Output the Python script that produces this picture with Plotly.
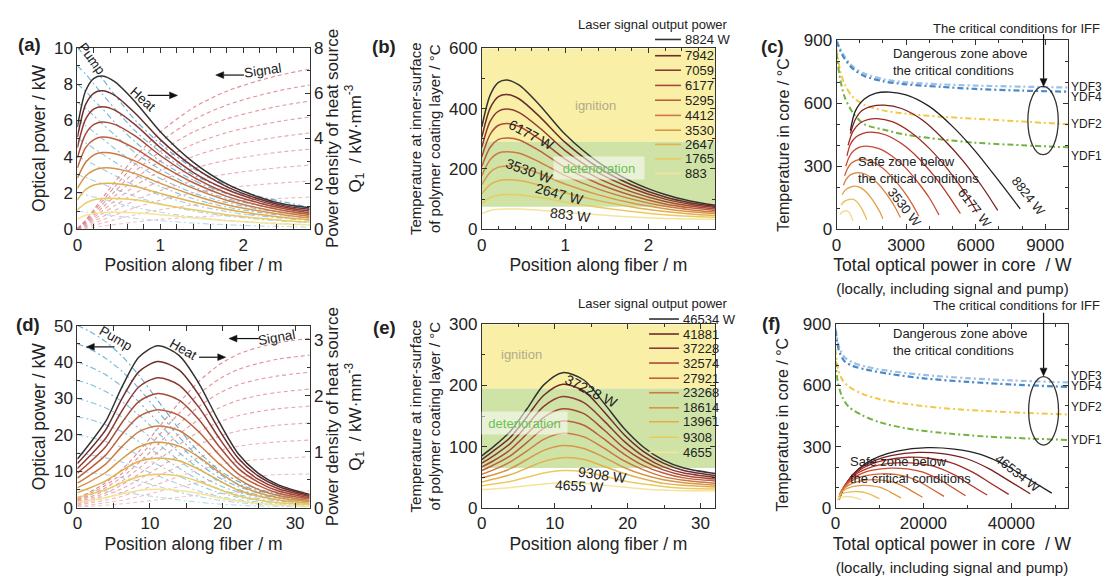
import plotly.graph_objects as go

# ======================= DATA =======================
LEG_A = ["8824 W", "7942", "7059", "6177", "5295", "4412", "3530", "2647", "1765", "883"]
LEG_D = ["46534 W", "41881", "37228", "32574", "27921", "23268", "18614", "13961", "9308", "4655"]

# ---- panel (a): position (m) / heat (kW/mm3) / pump, signal (kW)
A_X = [0, 0.1, 0.2, 0.3, 0.45, 0.7, 1.0, 1.4, 1.8, 2.2, 2.5, 2.8]
A_HEAT = [
    [4.5, 6.1, 6.65, 6.75, 6.5, 5.6, 4.3, 2.95, 2.0, 1.4, 1.1, 0.95],
    [4.05, 5.5, 6.0, 6.1, 5.9, 5.1, 3.95, 2.75, 1.88, 1.32, 1.03, 0.88],
    [3.6, 4.85, 5.3, 5.4, 5.25, 4.6, 3.6, 2.5, 1.75, 1.24, 0.97, 0.8],
    [3.15, 4.2, 4.62, 4.73, 4.62, 4.1, 3.25, 2.3, 1.6, 1.15, 0.9, 0.72],
    [2.7, 3.6, 3.95, 4.06, 3.98, 3.55, 2.85, 2.05, 1.45, 1.05, 0.82, 0.65],
    [2.25, 2.95, 3.28, 3.38, 3.33, 3.0, 2.45, 1.8, 1.28, 0.93, 0.73, 0.57],
    [1.8, 2.35, 2.6, 2.7, 2.68, 2.45, 2.02, 1.5, 1.08, 0.8, 0.63, 0.5],
    [1.3, 1.75, 1.95, 2.02, 2.02, 1.88, 1.58, 1.2, 0.88, 0.65, 0.52, 0.42],
    [0.85, 1.15, 1.3, 1.35, 1.36, 1.3, 1.1, 0.86, 0.64, 0.48, 0.38, 0.32],
    [0.45, 0.62, 0.7, 0.74, 0.75, 0.73, 0.64, 0.5, 0.38, 0.29, 0.23, 0.2],
]
A_PUMP = [
    [10, 9.5, 8.9, 8.3, 7.4, 6.0, 4.7, 3.35, 2.45, 1.8, 1.5, 1.2],
    [9, 8.55, 8.0, 7.45, 6.65, 5.4, 4.25, 3.0, 2.2, 1.65, 1.35, 1.1],
    [8, 7.6, 7.1, 6.65, 5.9, 4.8, 3.75, 2.7, 1.95, 1.45, 1.2, 1.0],
    [7, 6.65, 6.25, 5.8, 5.2, 4.2, 3.3, 2.35, 1.7, 1.3, 1.05, 0.85],
    [6, 5.7, 5.35, 5.0, 4.45, 3.6, 2.8, 2.0, 1.47, 1.1, 0.9, 0.72],
    [5, 4.75, 4.45, 4.15, 3.7, 3.0, 2.35, 1.68, 1.22, 0.92, 0.75, 0.6],
    [4, 3.8, 3.57, 3.32, 2.96, 2.4, 1.88, 1.34, 0.98, 0.73, 0.6, 0.48],
    [3, 2.85, 2.67, 2.5, 2.22, 1.8, 1.4, 1.0, 0.73, 0.55, 0.45, 0.36],
    [2, 1.9, 1.78, 1.66, 1.48, 1.2, 0.94, 0.67, 0.49, 0.37, 0.3, 0.24],
    [1, 0.95, 0.89, 0.83, 0.74, 0.6, 0.47, 0.34, 0.25, 0.18, 0.15, 0.12],
]
A_SIGNAL = [
    [0.05, 0.5, 1.1, 1.7, 2.6, 4.0, 5.35, 6.7, 7.6, 8.2, 8.55, 8.82],
    [0.05, 0.45, 1.0, 1.53, 2.34, 3.6, 4.82, 6.03, 6.84, 7.38, 7.7, 7.94],
    [0.04, 0.4, 0.88, 1.36, 2.08, 3.2, 4.28, 5.36, 6.08, 6.56, 6.84, 7.06],
    [0.04, 0.35, 0.77, 1.19, 1.82, 2.8, 3.75, 4.69, 5.32, 5.74, 5.99, 6.18],
    [0.03, 0.3, 0.66, 1.02, 1.56, 2.4, 3.21, 4.02, 4.56, 4.92, 5.13, 5.30],
    [0.03, 0.25, 0.55, 0.85, 1.3, 2.0, 2.68, 3.35, 3.8, 4.1, 4.28, 4.41],
    [0.02, 0.2, 0.44, 0.68, 1.04, 1.6, 2.14, 2.68, 3.04, 3.28, 3.42, 3.53],
    [0.02, 0.15, 0.33, 0.51, 0.78, 1.2, 1.6, 2.01, 2.28, 2.46, 2.57, 2.65],
    [0.01, 0.1, 0.22, 0.34, 0.52, 0.8, 1.07, 1.34, 1.52, 1.64, 1.71, 1.77],
    [0.01, 0.05, 0.11, 0.17, 0.26, 0.4, 0.54, 0.67, 0.76, 0.82, 0.86, 0.88],
]

# ---- panel (b): coating temperature (°C)
B_X = [0, 0.1, 0.2, 0.3, 0.45, 0.7, 1.0, 1.4, 1.8, 2.2, 2.5, 2.8]
B_TEMP = [
    [340, 445, 487, 495, 478, 410, 315, 222, 158, 115, 94, 80],
    [305, 402, 440, 447, 432, 372, 288, 204, 147, 107, 88, 76],
    [272, 358, 392, 399, 387, 335, 261, 187, 136, 100, 83, 72],
    [240, 315, 345, 351, 341, 297, 233, 169, 124, 92, 77, 67],
    [208, 272, 298, 303, 296, 259, 205, 151, 112, 84, 71, 62],
    [178, 231, 253, 257, 252, 222, 178, 133, 100, 76, 65, 57],
    [148, 189, 206, 210, 207, 184, 150, 114, 87, 68, 58, 52],
    [118, 148, 161, 164, 162, 146, 121, 95, 74, 59, 51, 46],
    [85, 105, 113, 115, 114, 105, 90, 73, 59, 48, 43, 40],
    [52, 62, 66, 67, 67, 63, 56, 48, 41, 36, 34, 33],
]

# ---- panel (c): core temperature vs total optical power
C_X = [
    [600, 800, 1200, 1700, 2300, 3000, 4000, 5000, 6000, 7000, 7920],
    [600, 800, 1100, 1500, 2050, 2800, 3700, 4600, 5500, 6300, 6950],
    [500, 700, 1000, 1350, 1750, 2400, 3200, 4000, 4800, 5500, 6060],
    [450, 600, 850, 1150, 1500, 2100, 2800, 3500, 4200, 4800, 5340],
    [400, 550, 750, 1000, 1300, 1800, 2400, 3000, 3500, 4000, 4420],
    [350, 480, 650, 850, 1100, 1500, 2000, 2500, 2900, 3250, 3550],
    [300, 400, 550, 750, 950, 1250, 1650, 2000, 2300, 2550, 2750],
    [250, 330, 450, 600, 800, 1050, 1300, 1500, 1700, 1870, 2000],
    [200, 270, 360, 480, 650, 800, 950, 1050, 1150, 1230, 1300],
    [150, 200, 270, 350, 430, 500, 560, 610, 650, 680, 700],
]
C_T = [
    [470, 560, 620, 648, 653, 640, 585, 490, 370, 230, 97],
    [455, 520, 565, 585, 591, 575, 520, 430, 320, 200, 90],
    [400, 465, 505, 522, 527, 512, 462, 385, 285, 180, 82],
    [350, 405, 440, 457, 462, 450, 408, 342, 255, 165, 75],
    [300, 345, 375, 391, 396, 385, 348, 290, 225, 150, 68],
    [255, 290, 315, 328, 333, 323, 290, 235, 180, 122, 62],
    [210, 235, 255, 266, 270, 262, 232, 190, 145, 100, 56],
    [165, 180, 193, 201, 205, 197, 175, 148, 115, 82, 50],
    [115, 126, 134, 140, 143, 138, 122, 105, 85, 65, 45],
    [70, 77, 83, 87, 88, 85, 78, 68, 58, 48, 40],
]
C_YDF_X34 = [0, 300, 700, 1200, 2000, 3000, 4500, 6000, 8000, 10000]
C_YDF3 = [900, 830, 775, 742, 715, 700, 690, 684, 679, 675]
C_YDF4 = [895, 820, 765, 730, 705, 690, 678, 668, 660, 655]
C_YDF_X12 = [0, 150, 350, 700, 1200, 2000, 3000, 4500, 6000, 8000, 10000]
C_YDF2 = [860, 760, 690, 630, 592, 566, 550, 536, 526, 513, 500]
C_YDF1 = [840, 720, 630, 555, 500, 475, 450, 428, 412, 400, 390]

# ---- panel (d)
D_X = [0, 1.6, 3.9, 6.2, 8.5, 11.1, 14, 16.7, 19.5, 22.2, 24.9, 27.7, 32]
D_HEAT = [
    [0.87, 1.13, 1.54, 2.17, 2.69, 2.89, 2.72, 2.23, 1.54, 0.96, 0.62, 0.41, 0.24],
    [0.79, 1.02, 1.39, 1.96, 2.43, 2.61, 2.46, 2.02, 1.40, 0.88, 0.57, 0.38, 0.22],
    [0.70, 0.91, 1.24, 1.74, 2.16, 2.32, 2.19, 1.80, 1.25, 0.79, 0.51, 0.34, 0.20],
    [0.62, 0.80, 1.09, 1.53, 1.90, 2.04, 1.92, 1.58, 1.10, 0.70, 0.46, 0.30, 0.18],
    [0.53, 0.69, 0.94, 1.32, 1.63, 1.75, 1.65, 1.36, 0.95, 0.60, 0.40, 0.26, 0.16],
    [0.44, 0.57, 0.78, 1.10, 1.36, 1.46, 1.38, 1.13, 0.79, 0.51, 0.33, 0.22, 0.13],
    [0.36, 0.46, 0.63, 0.88, 1.09, 1.17, 1.10, 0.91, 0.64, 0.41, 0.27, 0.18, 0.11],
    [0.27, 0.35, 0.48, 0.67, 0.83, 0.89, 0.84, 0.69, 0.49, 0.31, 0.21, 0.14, 0.08],
    [0.18, 0.24, 0.32, 0.45, 0.56, 0.60, 0.57, 0.47, 0.33, 0.21, 0.14, 0.09, 0.06],
    [0.10, 0.13, 0.18, 0.25, 0.31, 0.33, 0.31, 0.26, 0.18, 0.12, 0.08, 0.05, 0.03],
]
D_PUMP = [
    [50, 48.5, 45.6, 41.5, 36.3, 29.4, 21.7, 15.4, 10.4, 7.2, 5.2, 3.8, 2.5],
    [45, 43.7, 41.0, 37.4, 32.7, 26.5, 19.5, 13.9, 9.4, 6.5, 4.7, 3.4, 2.25],
    [40, 38.8, 36.5, 33.2, 29.0, 23.5, 17.4, 12.3, 8.3, 5.8, 4.2, 3.0, 2.0],
    [35, 34.0, 31.9, 29.1, 25.4, 20.6, 15.2, 10.8, 7.3, 5.0, 3.6, 2.7, 1.75],
    [30, 29.1, 27.4, 24.9, 21.8, 17.6, 13.0, 9.2, 6.2, 4.3, 3.1, 2.3, 1.5],
    [25, 24.3, 22.8, 20.8, 18.2, 14.7, 10.9, 7.7, 5.2, 3.6, 2.6, 1.9, 1.25],
    [20, 19.4, 18.2, 16.6, 14.5, 11.8, 8.7, 6.2, 4.2, 2.9, 2.1, 1.5, 1.0],
    [15, 14.6, 13.7, 12.5, 10.9, 8.8, 6.5, 4.6, 3.1, 2.2, 1.6, 1.1, 0.75],
    [10, 9.7, 9.1, 8.3, 7.3, 5.9, 4.3, 3.1, 2.1, 1.4, 1.0, 0.76, 0.5],
    [5, 4.85, 4.56, 4.15, 3.63, 2.94, 2.17, 1.54, 1.04, 0.72, 0.52, 0.38, 0.25],
]
D_SIGNAL = [
    [2.8, 4.2, 6.9, 10.6, 15.5, 21.8, 28.8, 34.6, 39.2, 42.2, 44.0, 45.3, 46.5],
    [2.5, 3.8, 6.2, 9.5, 14.0, 19.6, 25.9, 31.1, 35.3, 38.0, 39.6, 40.8, 41.9],
    [2.2, 3.4, 5.5, 8.5, 12.4, 17.4, 23.0, 27.7, 31.4, 33.8, 35.2, 36.2, 37.2],
    [2.0, 2.9, 4.8, 7.4, 10.9, 15.3, 20.2, 24.2, 27.4, 29.5, 30.8, 31.7, 32.6],
    [1.7, 2.5, 4.1, 6.4, 9.3, 13.1, 17.3, 20.8, 23.5, 25.3, 26.4, 27.2, 27.9],
    [1.4, 2.1, 3.5, 5.3, 7.8, 10.9, 14.4, 17.3, 19.6, 21.1, 22.0, 22.7, 23.3],
    [1.1, 1.7, 2.8, 4.2, 6.2, 8.7, 11.5, 13.8, 15.7, 16.9, 17.6, 18.1, 18.6],
    [0.8, 1.3, 2.1, 3.2, 4.7, 6.5, 8.6, 10.4, 11.8, 12.7, 13.2, 13.6, 14.0],
    [0.6, 0.8, 1.4, 2.1, 3.1, 4.4, 5.8, 6.9, 7.8, 8.4, 8.8, 9.1, 9.3],
    [0.3, 0.4, 0.7, 1.1, 1.6, 2.2, 2.9, 3.5, 3.9, 4.2, 4.4, 4.5, 4.66],
]

# ---- panel (e)
E_X = [0, 1.6, 3.9, 6.2, 8.5, 11.1, 14, 16.7, 19.5, 22.2, 24.9, 27.7, 32]
E_TEMP = [
    [85, 100, 125, 162, 201, 221, 209, 172, 130, 99, 78, 65, 56],
    [79, 93, 115, 149, 184, 202, 191, 158, 120, 92, 73, 61, 53],
    [73, 85, 105, 135, 166, 182, 172, 143, 109, 84, 67, 57, 50],
    [67, 77, 95, 121, 148, 162, 154, 128, 98, 77, 62, 53, 47],
    [61, 70, 85, 107, 130, 142, 135, 113, 88, 69, 57, 49, 44],
    [55, 62, 75, 93, 112, 122, 116, 98, 77, 62, 51, 45, 40],
    [49, 54, 64, 79, 94, 102, 97, 83, 66, 54, 46, 41, 37],
    [42, 47, 54, 65, 76, 82, 79, 68, 56, 47, 40, 37, 34],
    [36, 39, 43, 50, 57, 61, 59, 52, 44, 39, 35, 32, 31],
    [30, 31, 33, 36, 39, 41, 40, 37, 34, 31, 29, 28, 28],
]

# ---- panel (f)
F_X = [
    [800, 2000, 4000, 7000, 10000, 14000, 20900, 27000, 33000, 39000, 44000, 49200],
    [800, 1800, 3600, 6300, 9000, 12600, 18800, 24300, 29700, 35100, 39600, 44300],
    [800, 1600, 3200, 5600, 8000, 11200, 16700, 21600, 26400, 31200, 35200, 39400],
    [800, 1400, 2800, 4900, 7000, 9800, 14700, 18900, 23100, 27400, 30800, 34500],
    [800, 1200, 2400, 4200, 6000, 8400, 12600, 16300, 19900, 23500, 26500, 29600],
    [800, 1000, 2000, 3500, 5000, 7000, 10500, 13600, 16600, 19600, 22100, 24700],
    [800, 1000, 1600, 2800, 4000, 5600, 8400, 10900, 13300, 15700, 17700, 19800],
    [800, 900, 1200, 2100, 3000, 4200, 6300, 8200, 10000, 11800, 13300, 14900],
    [600, 700, 900, 1400, 2000, 2850, 4250, 5500, 6700, 7900, 8900, 10000],
    [500, 600, 700, 900, 1200, 1650, 2450, 3200, 3900, 4600, 5200, 5800],
]
F_T = [
    [40, 100, 165, 220, 252, 278, 295, 288, 262, 205, 140, 72],
    [40, 95, 154, 204, 233, 256, 272, 266, 242, 190, 131, 69],
    [40, 89, 142, 187, 213, 234, 248, 242, 221, 175, 122, 66],
    [40, 83, 129, 168, 191, 210, 222, 217, 199, 158, 111, 63],
    [40, 76, 116, 149, 169, 185, 195, 191, 175, 140, 101, 59],
    [40, 70, 102, 130, 146, 158, 167, 164, 151, 122, 90, 56],
    [40, 63, 88, 109, 121, 131, 138, 135, 125, 103, 78, 52],
    [40, 56, 74, 89, 98, 105, 110, 108, 101, 85, 67, 49],
    [38, 49, 60, 68, 73, 77, 80, 79, 75, 66, 56, 45],
    [36, 42, 47, 50, 52, 54, 55, 55, 53, 49, 45, 40],
]
F_YDF_X34 = [0, 800, 2000, 4000, 7000, 12000, 20000, 30000, 40000, 53000]
F_YDF3 = [880, 790, 740, 712, 692, 672, 652, 636, 625, 615]
F_YDF4 = [870, 770, 720, 695, 678, 658, 635, 618, 605, 593]
F_YDF_X12 = [0, 500, 1500, 3000, 6000, 10000, 16000, 24000, 34000, 44000, 53000]
F_YDF2 = [780, 690, 630, 595, 560, 533, 510, 490, 475, 465, 458]
F_YDF1 = [720, 620, 545, 495, 455, 420, 390, 368, 350, 340, 333]

# ======================= STYLE =======================
W, H = 1102, 581
FONT = "Liberation Sans"
TXT = "#222222"
AX = "#333333"
COLORS = ['#333333', '#6b2d2b', '#8e3a33', '#a84a38', '#bd5f3d',
          '#cc7a42', '#d89647', '#e2b04d', '#ecca62', '#f5e49a']
FCOL = ['#222222', '#7a1f1f', '#9e2a25', '#b8352a', '#c94a30',
        '#d26536', '#db823e', '#e29e46', '#eabd58', '#f2dc8c']
PUMP_C = '#5aaed3'
SIG_C = '#de7f87'
DASHDOT = '6px,3px,2px,3px'
TICK = 17
XT = 17.5


def px(xp):
    return xp / W


def py(yp):
    return 1 - yp / H


fig = go.Figure()


def line(x, y, xa, ya, color, width=1.4, dash=None, opacity=1.0):
    fig.add_trace(go.Scatter(
        x=x, y=y, mode='lines', xaxis=xa, yaxis=ya, opacity=opacity,
        line=dict(color=color, width=width, dash=dash, shape='spline', smoothing=0.8),
        showlegend=False, hoverinfo='skip'))


n = len(COLORS)
# (a)
for i in range(n):
    line(A_X, A_PUMP[i], 'x', 'y', PUMP_C, 1.1, DASHDOT, 0.95 - 0.06 * i)
for i in range(n):
    line(A_X, A_SIGNAL[i], 'x', 'y', SIG_C, 1.1, '4px,3px', 0.9 - 0.05 * i)
for i in range(n):
    line(A_X, A_HEAT[i], 'x', 'y7', COLORS[i], 1.5)
# (b)
for i in range(n):
    line(B_X, B_TEMP[i], 'x2', 'y2', COLORS[i], 1.5)
# (c)
line(C_YDF_X34, C_YDF3, 'x3', 'y3', '#9cc0e4', 2.2, DASHDOT)
line(C_YDF_X34, C_YDF4, 'x3', 'y3', '#4a88c6', 2.2, DASHDOT)
line(C_YDF_X12, C_YDF2, 'x3', 'y3', '#f2c849', 2.0, DASHDOT)
line(C_YDF_X12, C_YDF1, 'x3', 'y3', '#72b43e', 2.0, DASHDOT)
for i in range(n):
    line(C_X[i], C_T[i], 'x3', 'y3', FCOL[i], 1.3)
# (d)
for i in range(n):
    line(D_X, D_PUMP[i], 'x4', 'y4', PUMP_C, 1.1, DASHDOT, 0.95 - 0.06 * i)
for i in range(n):
    line(D_X, D_SIGNAL[i], 'x4', 'y4', SIG_C, 1.1, '4px,3px', 0.9 - 0.05 * i)
for i in range(n):
    line(D_X, D_HEAT[i], 'x4', 'y8', COLORS[i], 1.5)
# (e)
for i in range(n):
    line(E_X, E_TEMP[i], 'x5', 'y5', COLORS[i], 1.5)
# (f)
line(F_YDF_X34, F_YDF3, 'x6', 'y6', '#9cc0e4', 2.2, DASHDOT)
line(F_YDF_X34, F_YDF4, 'x6', 'y6', '#4a88c6', 2.2, DASHDOT)
line(F_YDF_X12, F_YDF2, 'x6', 'y6', '#f2c849', 2.0, DASHDOT)
line(F_YDF_X12, F_YDF1, 'x6', 'y6', '#72b43e', 2.0, DASHDOT)
for i in range(n):
    line(F_X[i], F_T[i], 'x6', 'y6', FCOL[i], 1.3)


def axis(rng, dtick, minor, title=None, domain=None, anchor=None, tsize=XT,
         standoff=5, side=None, overlaying=None, mirror='allticks', tickformat=None):
    d = dict(range=rng, dtick=dtick, tick0=0, ticks='inside', ticklen=5, tickwidth=1,
             tickcolor=AX, showline=True, linecolor=AX, linewidth=1, mirror=mirror,
             showgrid=False, zeroline=False, exponentformat='none', fixedrange=True,
             tickfont=dict(family=FONT, size=TICK, color=TXT),
             minor=dict(ticks='inside', ticklen=3, tickcolor=AX, dtick=minor, tick0=0,
                        showgrid=False))
    if title is not None:
        d['title'] = dict(text=title, font=dict(family=FONT, size=tsize, color=TXT),
                          standoff=standoff)
    if domain is not None:
        d['domain'] = domain
    if anchor is not None:
        d['anchor'] = anchor
    if side is not None:
        d['side'] = side
    if overlaying is not None:
        d['overlaying'] = overlaying
    if tickformat is not None:
        d['tickformat'] = tickformat
    return d


XD1 = [px(72.7), px(306)]
XD2 = [px(479), px(713.3)]
XD3 = [px(835.3), px(1068.3)]
XD6 = [px(834.3), px(1068.3)]
POS = "Position along fiber / m"
QT = "Power density of heat source<br>Q<sub>1</sub>  / kW·mm<sup>-3</sup>"
TOT = ("Total optical power in core  / W<br>"
       "<span style='font-size:15px'>(locally, including signal and pump)</span>")
TCORE = "Temperature in core / °C"

fig.update_layout(
    width=W, height=H, margin=dict(l=0, r=0, t=0, b=0),
    paper_bgcolor='white', plot_bgcolor='white', hovermode=False,
    font=dict(family=FONT, color=TXT),
    xaxis=axis([0, 2.8], 1, 0.2, POS, XD1, 'y', standoff=5),
    yaxis=axis([0, 10], 2, 1, "Optical power / kW", [py(227.7), py(40)], 'x',
               standoff=3, mirror=False),
    yaxis7=axis([0, 8], 2, 1, QT, None, 'x', tsize=17, standoff=3, side='right',
                overlaying='y', mirror=False),
    xaxis2=axis([0, 2.8], 1, 0.2, POS, XD2, 'y2', standoff=5),
    yaxis2=axis([0, 600], 200, 100,
                "Temperature at inner-surface<br>of polymer coating layer / °C",
                [py(227.7), py(40.7)], 'x2', tsize=15, standoff=4),
    xaxis3=axis([0, 10000], 3000, 1000, TOT, XD3, 'y3', standoff=5, tickformat='d'),
    yaxis3=axis([0, 900], 300, 100, None, [py(227.7), py(32.3)], 'x3'),
    xaxis4=axis([0, 32], 10, 5, POS, XD1, 'y4', standoff=5),
    yaxis4=axis([0, 50], 10, 5, "Optical power / kW", [py(515.7), py(327.3)], 'x4',
                standoff=3, mirror=False),
    yaxis8=axis([0, 3.25], 1, 0.5, QT, None, 'x4', tsize=17, standoff=3, side='right',
                overlaying='y4', mirror=False),
    xaxis5=axis([0, 32], 10, 5, POS, XD2, 'y5', standoff=5),
    yaxis5=axis([0, 300], 100, 50,
                "Temperature at inner-surface<br>of polymer coating layer / °C",
                [py(515.7), py(326)], 'x5', tsize=15, standoff=4),
    xaxis6=axis([0, 53000], 20000, 10000, TOT, XD6, 'y6', standoff=5, tickformat='d'),
    yaxis6=axis([0, 900], 300, 100, None, [py(515.7), py(326)], 'x6'),
)

shapes = []
ann = []

# background zones
YEL = '#f9efa6'
GRN = '#cfe3a6'
shapes += [
    dict(type='rect', xref='x2', yref='y2', x0=0, x1=2.8, y0=290, y1=600,
         fillcolor=YEL, line=dict(width=0), layer='below'),
    dict(type='rect', xref='x2', yref='y2', x0=0, x1=2.8, y0=75, y1=290,
         fillcolor=GRN, line=dict(width=0), layer='below'),
    dict(type='rect', xref='x5', yref='y5', x0=0, x1=32, y0=195, y1=300,
         fillcolor=YEL, line=dict(width=0), layer='below'),
    dict(type='rect', xref='x5', yref='y5', x0=0, x1=32, y0=65, y1=195,
         fillcolor=GRN, line=dict(width=0), layer='below'),
    dict(type='circle', xref='x3', yref='y3', x0=8250, x1=9560, y0=355, y1=680,
         line=dict(color=AX, width=1.3)),
    dict(type='circle', xref='x6', yref='y6', x0=43940, x1=50740, y0=308, y1=644,
         line=dict(color=AX, width=1.3)),
]


def txt(text, x, y, xref, yref, size=14, angle=0, color=TXT, xanchor='center',
        align='center', bold=False, **kw):
    d = dict(text=f"<b>{text}</b>" if bold else text, x=x, y=y, xref=xref, yref=yref,
             showarrow=False, textangle=angle, xanchor=xanchor, yanchor='middle',
             align=align, font=dict(family=FONT, size=size, color=color))
    d.update(kw)
    ann.append(d)


def arrow(x0, y0, x1, y1, head=8, half=3.5):
    """Arrow drawn with shapes, pixel coordinates from tail (x0,y0) to head (x1,y1)."""
    dx, dy = x1 - x0, y1 - y0
    length = (dx * dx + dy * dy) ** 0.5
    ux, uy = dx / length, dy / length
    bx, by = x1 - ux * head, y1 - uy * head
    shapes.append(dict(type='line', xref='paper', yref='paper', x0=px(x0), y0=py(y0),
                       x1=px(bx), y1=py(by), line=dict(color='#111111', width=1.2)))
    p1 = (bx - uy * half, by + ux * half)
    p2 = (bx + uy * half, by - ux * half)
    path = (f"M {px(x1)},{py(y1)} L {px(p1[0])},{py(p1[1])} "
            f"L {px(p2[0])},{py(p2[1])} Z")
    shapes.append(dict(type='path', xref='paper', yref='paper', path=path,
                       fillcolor='#111111', line=dict(color='#111111', width=0.5)))


# y titles of (c) and (f), placed as in the reference (slightly below centre)
txt(TCORE, px(782), py(140), 'paper', 'paper', 16, -90)
txt(TCORE, px(782), py(429), 'paper', 'paper', 16, -90)

# panel letters
for lab, (xx, yy) in zip("abcdef", [(25, 37), (381, 39), (771, 39),
                                    (23, 326), (381, 329), (769, 325)]):
    txt(f"({lab})", px(xx), py(yy), 'paper', 'paper', size=18.5, bold=True)

# (a) labels
txt("Pump", 0.17, 9.4, 'x', 'y', 13.5, 54)
txt("Heat", 0.79, 7.12, 'x', 'y', 13.5, 42)
arrow(143.3, 89.3, 173.3, 89.3)
txt("Signal", 2.24, 8.72, 'x', 'y', 13.5, -8)
arrow(240, 68.3, 211.7, 68.3)
# (d) labels
txt("Pump", 5.3, 46.4, 'x4', 'y4', 13.5, 30)
arrow(110, 349.3, 81.7, 349.3)
txt("Heat", 14.6, 43.5, 'x4', 'y4', 13.5, 30)
arrow(195, 360, 221.7, 360)
txt("Signal", 27.5, 46.6, 'x4', 'y4', 13.5, -10)
arrow(255, 340.7, 225, 340.7)

# (b) labels
txt("ignition", 1.36, 410, 'x2', 'y2', 13, color='#b3a98c')
txt("deterioration", 1.41, 203, 'x2', 'y2', 13, color='#6dbf55',
    bgcolor='rgba(255,255,255,0.55)', width=88, height=20)
txt("6177 W", 0.6, 313, 'x2', 'y2', 14, 28)
txt("3530 W", 0.575, 194, 'x2', 'y2', 14, 20)
txt("2647 W", 0.935, 117, 'x2', 'y2', 14, 15)
txt("883 W", 1.07, 47, 'x2', 'y2', 14, 7)
# (e) labels
txt("ignition", 5.4, 251, 'x5', 'y5', 13, color='#b3a98c')
txt("deterioration", 5.85, 139, 'x5', 'y5', 13, color='#6dbf55',
    bgcolor='rgba(255,255,255,0.55)', width=83, height=20)
txt("37228 W", 15.0, 191, 'x5', 'y5', 14, 27)
txt("9308 W", 16.6, 54, 'x5', 'y5', 14, 8)
txt("4655 W", 13.4, 35, 'x5', 'y5', 14, 3)

# (c) labels
txt("Dangerous zone above<br>the critical conditions", 2344, 795, 'x3', 'y3', 13,
    xanchor='left', align='left')
txt("Safe zone below<br>the critical conditions", 844, 281, 'x3', 'y3', 13,
    xanchor='left', align='left')
txt("3530 W", 2944, 105, 'x3', 'y3', 13, 52)
txt("6177 W", 5987, 100, 'x3', 'y3', 13, 52)
txt("8824 W", 8300, 158, 'x3', 'y3', 13, 52)
txt("The critical conditions for IFF", px(1016), py(20), 'paper', 'paper', 13)
arrow(1043.3, 26, 1043.3, 80)
for lab, yy in [("YDF3", 80.5), ("YDF4", 90.5), ("YDF2", 119.3), ("YDF1", 151.7)]:
    txt(lab, px(1069), py(yy), 'paper', 'paper', 12, xanchor='left')

# (f) labels
txt("Dangerous zone above<br>the critical conditions", 12615, 815, 'x6', 'y6', 13,
    xanchor='left', align='left')
txt("Safe zone below<br>the critical conditions", 2800, 185, 'x6', 'y6', 13,
    xanchor='left', align='left')
txt("46534 W", 41500, 167, 'x6', 'y6', 13, 38)
txt("The critical conditions for IFF", px(1016), py(306.7), 'paper', 'paper', 13)
arrow(1043.3, 314, 1043.3, 379.3)
for lab, yy in [("YDF3", 379.5), ("YDF4", 389.5), ("YDF2", 411.7), ("YDF1", 445.7)]:
    txt(lab, px(1069), py(yy), 'paper', 'paper', 12, xanchor='left')


# manual legends
def legend(labels, title_y, rows, x0, x1, xt):
    txt("Laser signal output power", px(728), py(title_y), 'paper', 'paper', 13,
        xanchor='right')
    for lab, c, ry in zip(labels, COLORS, rows):
        shapes.append(dict(type='line', xref='paper', yref='paper', x0=px(x0), x1=px(x1),
                           y0=py(ry), y1=py(ry), line=dict(color=c, width=1.6)))
        txt(lab, px(xt), py(ry), 'paper', 'paper', 13, xanchor='left')


legend(LEG_A, 16.5, [31.5, 48.3, 63.3, 79, 94.3, 110, 125.3, 140, 155, 170], 653, 679, 681)
legend(LEG_D, 304, [320.5, 336, 350.7, 366, 381.7, 396.7, 412.3, 426.7, 442.7, 458.3],
       647, 677, 679)

fig.update_layout(shapes=shapes, annotations=ann)
fig.write_html("out.html", config={'displayModeBar': False},
               post_script="document.body.style.margin='0px';"
                           "document.body.style.overflow='hidden';")
